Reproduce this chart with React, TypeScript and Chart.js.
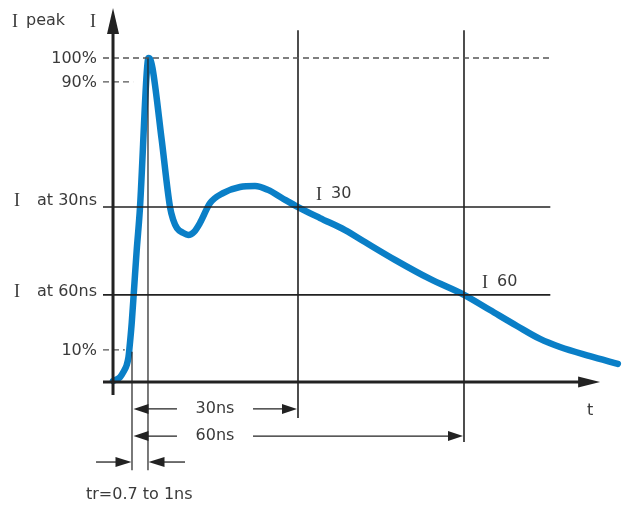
import React, { useEffect, useRef } from "react";
import { Chart, registerables } from "chart.js";

Chart.register(...registerables);

// ---- data (time in ns, current in % of peak) ----
const curveTime = [
  -3.43, -2.17, -1.45, -0.96, -0.63, -0.49, -0.05, 0.36, 0.85, 1.45, 2.66, 2.98, 3.34, 3.85,
  5.37, 6.87, 7.46, 8.13, 9.27, 10.17, 11.2, 12.29, 14.1, 16.45, 19.52, 22.23, 24.58, 27.1,
  30, 33.98, 38.5, 42.1, 47.53, 53.86, 60, 64.7, 69.58, 73.74, 77.35, 82.77, 87.8,
];
const curveCurrent = [
  0.3, 1.5, 3.4, 5.2, 7.7, 9.9, 18.2, 28.4, 40.7, 54, 95.4, 100, 99.4, 95.4,
  74.7, 54, 50, 47.5, 46, 45.4, 46.3, 49.1, 55.2, 58.3, 60.2, 60.5, 59.3, 56.8,
  54, 50.6, 46.9, 43.2, 37.7, 31.8, 26.9, 22.2, 17.3, 13.3, 10.8, 8, 5.6,
];

const percentLabels = ["100%", "90%", "10%"];
const percentValues = [100, 92.6, 9.9];
const percentLineEnds = [75.6, 0.2, -1.3];

const markerTimes = [30, 60];
const markerCurrents = [54, 26.9];
const markerNames = ["30", "60"];
const markerRowLabels = ["at 30ns", "at 60ns"];
const spanLabels = ["30ns", "60ns"];
const spanRows = [-8.3, -16.7];
const spanBottoms = [-11.1, -18.5];

const peakTime = 2.89;
const riseStart = 0;
const riseLabel = "tr=0.7 to 1ns";
const riseRow = -24.7;

const axisOriginTime = -3.43;
const axisLeftTime = -5.24;
const axisRightTime = 84.6;
const axisTopCurrent = 115.4;
const guideRightTime = 75.6;
const guideTopCurrent = 108.6;

const xMin = -23.855;
const xMax = 88.735;
const yMin = -38.58;
const yMax = 117.9;

const BLUE = "#0a7fc7";
const INK = "#222222";
const TEXT = "#3a3a3a";

type Seg = { x1: number; y1: number; x2: number; y2: number; w: number; c: string; dash?: number[] };

function segDataset(s: Seg) {
  return {
    type: "line" as const,
    data: [
      { x: s.x1, y: s.y1 },
      { x: s.x2, y: s.y2 },
    ],
    borderColor: s.c,
    borderWidth: s.w,
    borderDash: s.dash || [],
    pointRadius: 0,
    tension: 0,
    fill: false,
    clip: false as any,
  };
}

export default function App() {
  const ref = useRef<HTMLCanvasElement | null>(null);

  useEffect(() => {
    if (!ref.current) return;
    const segs: Seg[] = [];
    // axes
    segs.push({ x1: axisOriginTime, y1: -4, x2: axisOriginTime, y2: guideTopCurrent - 1, w: 3, c: INK });
    segs.push({ x1: axisLeftTime, y1: 0, x2: axisRightTime - 3.5, y2: 0, w: 3, c: INK });
    // percent dashed lines
    percentValues.forEach((v, i) => {
      segs.push({ x1: axisLeftTime, y1: v, x2: percentLineEnds[i], y2: v, w: 1.3, c: "#555", dash: [6, 4] });
    });
    // marker horizontal + vertical lines
    markerTimes.forEach((t, i) => {
      segs.push({ x1: axisLeftTime, y1: markerCurrents[i], x2: guideRightTime, y2: markerCurrents[i], w: 1.6, c: INK });
      segs.push({ x1: t, y1: guideTopCurrent, x2: t, y2: spanBottoms[i], w: 1.6, c: INK });
    });
    // peak vertical and rise start vertical
    segs.push({ x1: peakTime, y1: 100, x2: peakTime, y2: -27.2, w: 1.2, c: INK });
    segs.push({ x1: riseStart, y1: 9.3, x2: riseStart, y2: -27.2, w: 1.2, c: INK });
    // span dimension lines
    spanRows.forEach((r, i) => {
      segs.push({ x1: riseStart + 2, y1: r, x2: 8.13, y2: r, w: 1.3, c: INK });
      segs.push({ x1: 21.87, y1: r, x2: markerTimes[i] - 2, y2: r, w: 1.3, c: INK });
    });
    // rise time dimension
    segs.push({ x1: -6.5, y1: riseRow, x2: riseStart - 2, y2: riseRow, w: 1.3, c: INK });
    segs.push({ x1: peakTime + 2, y1: riseRow, x2: 9.58, y2: riseRow, w: 1.3, c: INK });

    const datasets: any[] = [
      ...segs.map(segDataset),
      {
        type: "line",
        data: curveTime.map((t, i) => ({ x: t, y: curveCurrent[i] })),
        borderColor: BLUE,
        borderWidth: 6.5,
        borderCapStyle: "round",
        borderJoinStyle: "round",
        cubicInterpolationMode: "monotone",
        pointRadius: 0,
        fill: false,
        clip: false,
      },
    ];

    const overlay = {
      id: "overlay",
      afterDatasetsDraw(chart: any) {
        const ctx = chart.ctx as CanvasRenderingContext2D;
        const sx = chart.scales.x;
        const sy = chart.scales.y;
        const px = (t: number) => sx.getPixelForValue(t);
        const py = (v: number) => sy.getPixelForValue(v);

        const arrow = (tx: number, ty: number, dir: "up" | "left" | "right", len: number, half: number) => {
          ctx.save();
          ctx.fillStyle = INK;
          ctx.beginPath();
          ctx.moveTo(tx, ty);
          if (dir === "up") {
            ctx.lineTo(tx - half, ty + len);
            ctx.lineTo(tx + half, ty + len);
          } else if (dir === "right") {
            ctx.lineTo(tx - len, ty - half);
            ctx.lineTo(tx - len, ty + half);
          } else {
            ctx.lineTo(tx + len, ty - half);
            ctx.lineTo(tx + len, ty + half);
          }
          ctx.closePath();
          ctx.fill();
          ctx.restore();
        };

        // axis arrows
        arrow(px(axisOriginTime), py(axisTopCurrent), "up", 26, 6);
        arrow(px(axisRightTime), py(0), "right", 22, 5.5);
        // span arrows
        spanRows.forEach((r, i) => {
          arrow(px(riseStart) + 1.5, py(r), "left", 15, 5);
          arrow(px(markerTimes[i]) - 1, py(r), "right", 15, 5);
        });
        arrow(px(riseStart) - 0.5, py(riseRow), "right", 16, 5);
        arrow(px(peakTime) + 0.5, py(riseRow), "left", 16, 5);

        const sans = (txt: string, x: number, y: number, align: CanvasTextAlign) => {
          ctx.font = '16px "DejaVu Sans"';
          ctx.fillStyle = TEXT;
          ctx.textAlign = align;
          ctx.textBaseline = "middle";
          ctx.fillText(txt, x, y);
        };
        const serifI = (x: number, y: number) => {
          ctx.font = '18px "Liberation Serif"';
          ctx.fillStyle = TEXT;
          ctx.textAlign = "left";
          ctx.textBaseline = "middle";
          ctx.fillText("I", x, y);
        };

        ctx.save();
        // top labels
        serifI(12, py(axisTopCurrent) + 14);
        sans("peak", 26, py(axisTopCurrent) + 13, "left");
        serifI(px(axisOriginTime) - 23, py(axisTopCurrent) + 14);
        // percent labels
        percentValues.forEach((v, i) => sans(percentLabels[i], px(axisLeftTime) - 6, py(v) + 1, "right"));
        // marker row labels
        const rowOffsets = [-6, -3];
        markerCurrents.forEach((v, i) => {
          serifI(14, py(v) + rowOffsets[i]);
          sans(markerRowLabels[i], 37, py(v) + rowOffsets[i], "left");
        });
        // I30 / I60 labels
        markerTimes.forEach((t, i) => {
          serifI(px(t) + 18, py(markerCurrents[i]) - 12);
          sans(markerNames[i], px(t) + 33, py(markerCurrents[i]) - 13, "left");
        });
        // span labels
        spanRows.forEach((r, i) => sans(spanLabels[i], (px(8.13) + px(21.87)) / 2, py(r), "center"));
        sans(riseLabel, 86, py(riseRow) + 33, "left");
        sans("t", px(axisRightTime) - 10, py(0) + 29, "center");
        ctx.restore();
      },
    };

    const chart = new Chart(ref.current, {
      type: "line",
      data: { datasets },
      options: {
        animation: false,
        responsive: false,
        devicePixelRatio: 1,
        layout: { padding: 0 },
        plugins: { legend: { display: false }, tooltip: { enabled: false } },
        scales: {
          x: { type: "linear", min: xMin, max: xMax, display: false },
          y: { type: "linear", min: yMin, max: yMax, display: false },
        },
      },
      plugins: [overlay],
    });
    return () => chart.destroy();
  }, []);

  return (
    <div style={{ position: "absolute", left: 0, top: 0, width: 623, height: 507, background: "#fff" }}>
      <canvas ref={ref} width={623} height={507} style={{ width: 623, height: 507, display: "block" }} />
    </div>
  );
}
